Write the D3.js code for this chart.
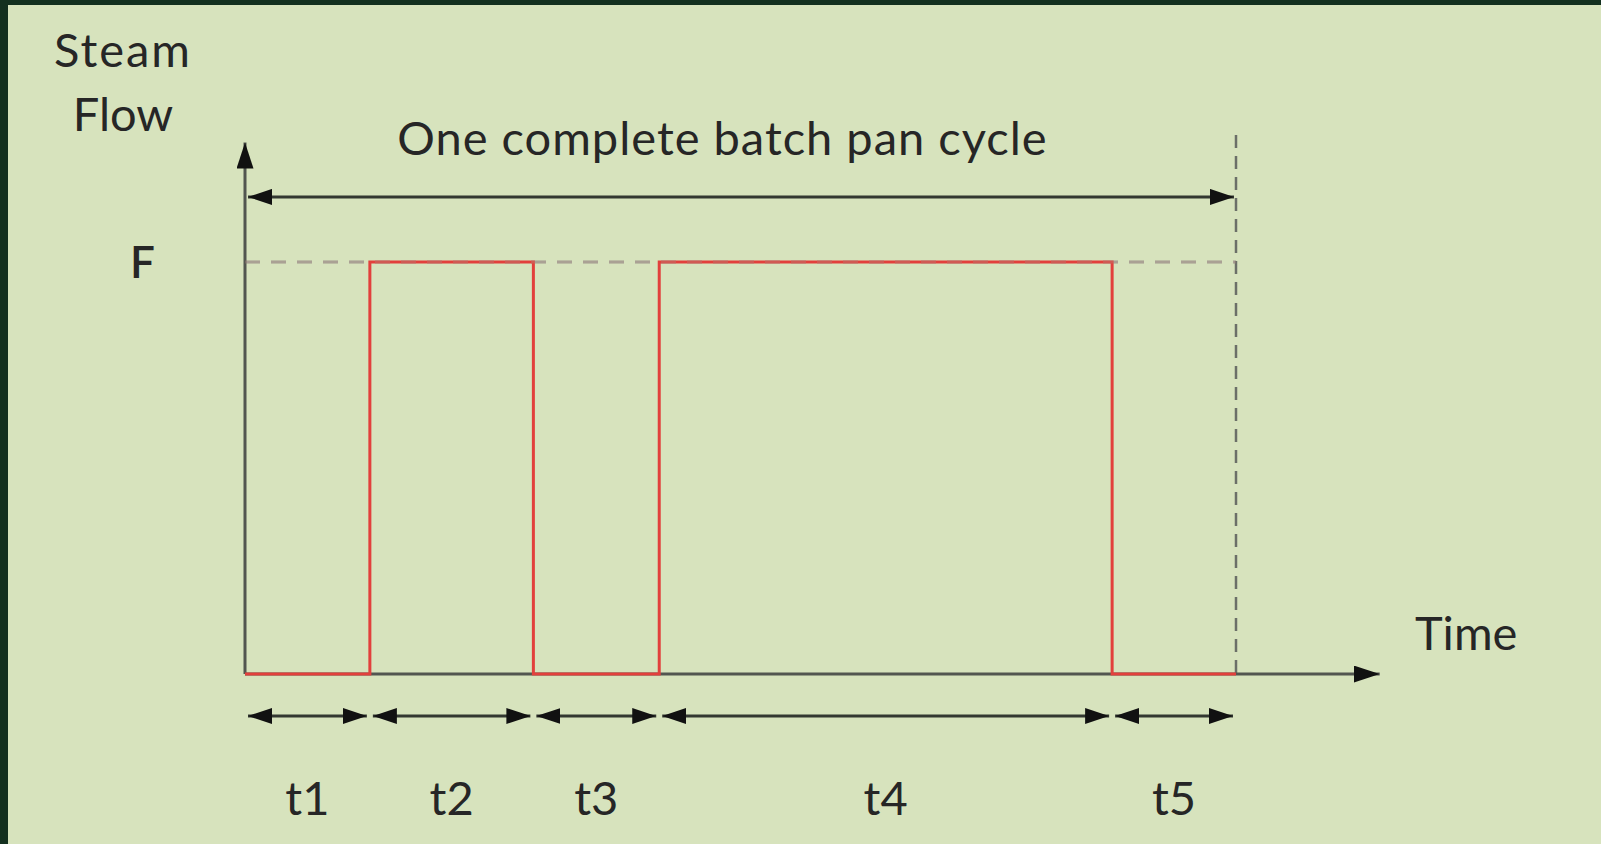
<!DOCTYPE html>
<html>
<head>
<meta charset="utf-8">
<script src="https://cdn.jsdelivr.net/npm/d3@7"></script>
<style>
  body { margin: 0; background: #13301f; overflow: hidden; }
  #chart { position: absolute; left: 8px; top: 5px; }
  text { font-family: Lato, "Open Sans", sans-serif; fill: #262626; }
</style>
</head>
<body>
<div id="chart"></div>
<script>
// phases of one batch pan cycle (time in % of the cycle)
var phases = ["t1", "t2", "t3", "t4", "t5"];
var durations = [12.6, 16.5, 12.7, 45.7, 12.5];
var steamOn = [0, 1, 0, 1, 0];
var flowTicks = [1];
var flowTickLabels = ["F"];

var width = 1601, height = 844;
var ox = 8, oy = 5; // svg offset inside the dark frame

var x = d3.scaleLinear().domain([0, 100]).range([245 - ox, 1236 - ox]);
var y = d3.scaleLinear().domain([0, 1]).range([674 - oy, 262 - oy]);

var starts = [0].concat(Array.from(d3.cumsum(durations)));
var cycleEnd = starts[starts.length - 1];

var svg = d3.select("#chart").append("svg")
    .attr("width", width - ox)
    .attr("height", height - oy)
    .style("background", "#d7e3bd");

var defs = svg.append("defs");
function marker(id, len, h) {
  defs.append("marker")
      .attr("id", id)
      .attr("markerUnits", "userSpaceOnUse")
      .attr("markerWidth", len)
      .attr("markerHeight", h)
      .attr("refX", len)
      .attr("refY", h / 2)
      .attr("orient", "auto-start-reverse")
    .append("path")
      .attr("d", "M0,0L" + len + "," + (h / 2) + "L0," + h + "Z")
      .attr("fill", "#111");
}
marker("axisHead", 26, 17);
marker("dimHead", 24, 16);

// dashed reference line at F
svg.append("line")
    .attr("x1", x(0)).attr("x2", x(cycleEnd))
    .attr("y1", y(1)).attr("y2", y(1))
    .attr("stroke", "#a7ae9f").attr("stroke-width", 3)
    .attr("stroke-dasharray", "15,11");

// dashed end-of-cycle line
svg.append("line")
    .attr("x1", x(cycleEnd)).attr("x2", x(cycleEnd))
    .attr("y1", y(1.308)).attr("y2", y(0))
    .attr("stroke", "#6b6f68").attr("stroke-width", 2.5)
    .attr("stroke-dasharray", "13,8");

// axes
svg.append("line")
    .attr("x1", x(0)).attr("x2", x(0))
    .attr("y1", y(0)).attr("y2", y(1.29))
    .attr("stroke", "#525650").attr("stroke-width", 3)
    .attr("marker-end", "url(#axisHead)");
svg.append("line")
    .attr("x1", x(0)).attr("x2", x(114.5))
    .attr("y1", y(0)).attr("y2", y(0))
    .attr("stroke", "#525650").attr("stroke-width", 3)
    .attr("marker-end", "url(#axisHead)");

// F tick label through a left axis
var yAxis = svg.append("g")
    .attr("transform", "translate(" + x(0) + ",0)")
    .call(d3.axisLeft(y).tickValues(flowTicks)
      .tickFormat(function(d, i) { return flowTickLabels[i]; })
      .tickSize(0).tickPadding(90));
yAxis.select(".domain").remove();
yAxis.selectAll("text")
    .attr("font-size", 44).attr("font-weight", 600)
    .attr("dy", "0.36em")
    .style("font-family", "Lato, sans-serif").attr("fill", "#262626");

// steam flow step line
var pts = [];
phases.forEach(function(p, i) {
  pts.push([starts[i], steamOn[i]]);
  pts.push([starts[i + 1], steamOn[i]]);
});
svg.append("path")
    .datum(pts)
    .attr("d", d3.line().x(function(d) { return x(d[0]); }).y(function(d) { return y(d[1]); }))
    .attr("fill", "none")
    .attr("stroke", "#e2403c")
    .attr("stroke-width", 3);

// gray dashes over the red top segments
svg.append("line")
    .attr("x1", x(0)).attr("x2", x(cycleEnd))
    .attr("y1", y(1)).attr("y2", y(1))
    .attr("stroke", "#b08a80").attr("stroke-width", 3).attr("opacity", 0.35)
    .attr("stroke-dasharray", "15,11");

// whole cycle dimension arrow
svg.append("line")
    .attr("x1", x(0) + 3).attr("x2", x(cycleEnd) - 2)
    .attr("y1", y(1.158)).attr("y2", y(1.158))
    .attr("stroke", "#333831").attr("stroke-width", 3)
    .attr("marker-start", "url(#dimHead)")
    .attr("marker-end", "url(#dimHead)");

svg.append("text")
    .attr("x", (x(0) + x(cycleEnd)) / 2 - 18)
    .attr("y", 155 - oy)
    .attr("text-anchor", "middle")
    .attr("font-size", 47)
    .attr("letter-spacing", 1)
    .text("One complete batch pan cycle");

// phase dimension arrows and labels
var dimY = 716 - oy;
svg.selectAll(".dim")
    .data(phases)
    .enter().append("line")
    .attr("class", "dim")
    .attr("x1", function(d, i) { return x(starts[i]) + 3; })
    .attr("x2", function(d, i) { return x(starts[i + 1]) - 3; })
    .attr("y1", dimY).attr("y2", dimY)
    .attr("stroke", "#333831").attr("stroke-width", 3)
    .attr("marker-start", "url(#dimHead)")
    .attr("marker-end", "url(#dimHead)");

svg.selectAll(".phase")
    .data(phases)
    .enter().append("text")
    .attr("class", "phase")
    .attr("x", function(d, i) { return (x(starts[i]) + x(starts[i + 1])) / 2; })
    .attr("y", 815 - oy)
    .attr("text-anchor", "middle")
    .attr("font-size", 47)
    .text(function(d) { return d; });

// axis titles
svg.append("text")
    .attr("x", 123 - ox).attr("y", 67 - oy)
    .attr("text-anchor", "middle").attr("font-size", 47)
    .attr("letter-spacing", 2)
    .text("Steam");
svg.append("text")
    .attr("x", 123 - ox).attr("y", 131 - oy)
    .attr("text-anchor", "middle").attr("font-size", 47)
    .text("Flow");
svg.append("text")
    .attr("x", 1415 - ox).attr("y", 650 - oy)
    .attr("font-size", 47)
    .text("Time");
</script>
</body>
</html>
